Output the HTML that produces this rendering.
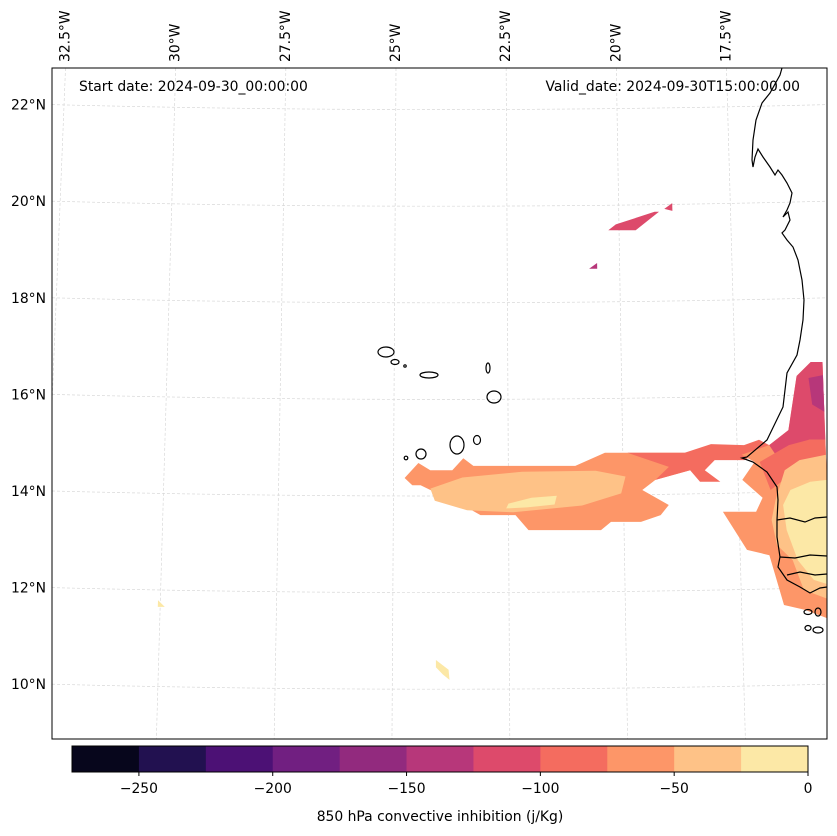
<!DOCTYPE html>
<html><head><meta charset="utf-8">
<style>
body{margin:0;background:#fff;}
svg{display:block;font-family:"DejaVu Sans","Liberation Sans",sans-serif;}
</style></head>
<body>
<svg id="chart" width="837" height="836" viewBox="0 0 837 836">
<defs><clipPath id="mapclip"><rect x="52" y="68" width="775" height="671"/></clipPath></defs>
<rect x="0" y="0" width="837" height="836" fill="#fff"/>
<g id="grid" clip-path="url(#mapclip)"></g>
<g id="fills" clip-path="url(#mapclip)"></g>
<g id="coast" clip-path="url(#mapclip)" fill="none" stroke="#000" stroke-width="1.2">
<path d="M782,68 L780,75 L770,93 L762,103 L756,120 L753,140 L752,160 L753,167 L755,157 L758,149 L763,157 L770,167 L775,175 L778,170 L782,175 L787,183 L792,193 L790,203 L787,210 L783,217 L788,212 L790,220 L785,230 L782,233 L787,240 L793,247 L798,260 L802,280 L804,300 L803,320 L800,340 L797,355 L787,373 L783,407 L767,440 L747,457 L742,458 L753,462 L767,472 L777,487 L778,500 L777,520 L777,537 L780,557 L778,567 L787,580 L800,587 L810,593 L820,588 L827,587"/>
<path d="M777,520 L790,518 L805,522 L815,518 L827,517 M780,557 L795,558 L810,555 L827,556 M787,575 L800,572 L815,575 L827,574"/>
<ellipse cx="386" cy="352" rx="8" ry="5"/><ellipse cx="395" cy="362" rx="4" ry="2.5"/><circle cx="405" cy="366" r="1.2"/>
<ellipse cx="429" cy="375" rx="9" ry="3"/><ellipse cx="488" cy="368" rx="2" ry="5"/><ellipse cx="494" cy="397" rx="7" ry="6"/>
<ellipse cx="421" cy="454" rx="5" ry="5"/><circle cx="406" cy="458" r="1.8"/><ellipse cx="457" cy="445" rx="7" ry="9"/><ellipse cx="477" cy="440" rx="3.5" ry="4.5"/>
<ellipse cx="808" cy="612" rx="4" ry="2.5"/><ellipse cx="818" cy="612" rx="3" ry="4"/><ellipse cx="808" cy="628" rx="3" ry="2.5"/><ellipse cx="818" cy="630" rx="5" ry="3"/>
</g>
<rect x="52" y="68" width="775" height="671" fill="none" stroke="#000" stroke-width="1"/>
<text x="79" y="91" font-size="13.9">Start date: 2024-09-30_00:00:00</text>
<text x="800" y="91" font-size="13.9" text-anchor="end">Valid_date: 2024-09-30T15:00:00.00</text>
<g id="latlabels" font-size="13.9"></g>
<g id="lonlabels" font-size="13.9"></g>
<g id="cbar"></g>
<text x="440" y="821" font-size="13.9" text-anchor="middle">850 hPa convective inhibition (j/Kg)</text>
</svg>
<script>
const NS="http://www.w3.org/2000/svg";
const levels=[-275,-250,-225,-200,-175,-150,-125,-100,-75,-50,-25,0];
const colors=["#07061c","#221150","#4c1175","#711f81","#922a7e","#b7377a","#dd4a6b","#f46c5f","#fd9668","#fec287","#fce8a6"];
const cbarTicks=[-250,-200,-150,-100,-50,0];
const latTicks=[10,12,14,16,18,20,22];
const lonTicks=[-32.5,-30,-27.5,-25,-22.5,-20,-17.5];
// contour polygons: level index, [lon,lat] pairs
const polyLevels=[8,7,9,10,8,6,5,7,9,10,6,6,5,10,10];
const polyCoords=[
[[-24.76,14.27],[-24.46,14.58],[-24.2,14.43],[-23.72,14.43],[-23.48,14.68],[-23.26,14.52],[-21.04,14.52],[-20.39,14.79],[-18.33,14.79],[-18.54,14.43],[-19.3,14.23],[-19.59,14.02],[-19.02,13.71],[-19.2,13.5],[-19.63,13.36],[-20.28,13.36],[-20.5,13.19],[-22.07,13.19],[-22.35,13.5],[-23.11,13.5],[-23.5,13.71],[-23.98,13.92],[-24.41,14.12],[-24.59,14.12]],
[[-19.9,14.79],[-18.65,14.79],[-18.07,14.97],[-17.35,14.95],[-17.02,15.06],[-16.8,14.95],[-17.35,14.64],[-18.0,14.64],[-18.22,14.43],[-17.89,14.19],[-18.33,14.19],[-18.54,14.43],[-19.3,14.23],[-19.0,14.5]],
[[-24.2,14.05],[-23.5,14.28],[-22.2,14.4],[-20.6,14.42],[-19.95,14.3],[-20.05,13.95],[-20.9,13.7],[-22.4,13.56],[-23.4,13.6],[-24.1,13.8]],
[[-22.5,13.74],[-22.0,13.86],[-21.45,13.9],[-21.5,13.72],[-22.1,13.66],[-22.55,13.64]],
[[-17.41,14.75],[-16.8,14.95],[-16.37,15.26],[-16.15,16.38],[-15.83,16.67],[-15.57,16.67],[-15.57,11.33],[-16.15,11.54],[-16.59,11.64],[-16.87,12.67],[-17.35,12.78],[-17.85,13.57],[-17.13,13.57],[-16.98,13.86],[-17.41,14.23],[-17.13,14.6]],
[[-16.8,14.95],[-16.37,15.26],[-16.15,16.38],[-15.83,16.67],[-15.57,16.67],[-15.57,15.06],[-15.93,15.06],[-16.15,14.75],[-16.59,14.64]],
[[-15.89,16.34],[-15.57,16.4],[-15.57,15.64],[-15.83,15.79]],
[[-17.02,14.6],[-16.37,14.95],[-15.93,15.06],[-15.57,15.06],[-15.57,14.23],[-16.37,14.33],[-16.8,14.02]],
[[-16.48,14.43],[-16.15,14.64],[-15.57,14.75],[-15.57,11.74],[-16.15,11.95],[-16.37,12.57],[-16.7,12.88],[-16.8,13.4],[-16.7,13.81]],
[[-16.37,14.02],[-15.93,14.19],[-15.57,14.23],[-15.57,12.05],[-15.93,12.16],[-16.26,12.57],[-16.48,13.19],[-16.54,13.71]],
[[-20.24,19.4],[-20.07,19.52],[-19.2,19.78],[-19.1,19.78],[-19.63,19.4]],
[[-18.98,19.84],[-18.8,19.96],[-18.8,19.8]],
[[-20.68,18.6],[-20.5,18.72],[-20.5,18.6]],
[[-30.05,11.74],[-29.9,11.6],[-30.05,11.6]],
[[-24.07,10.5],[-23.8,10.3],[-23.78,10.09],[-23.92,10.2],[-24.07,10.35]]
];
function py(lat){return 491-(lat-14)*48.3;}
function k(lat){return 47.1-(lat-9)*0.22;}
function px(lon,lat){return 392+(lat-9)*0.29+(lon+25)*k(lat);}
function el(t,a){const e=document.createElementNS(NS,t);for(const n in a)e.setAttribute(n,a[n]);return e;}
const grid=document.getElementById('grid');
latTicks.forEach(lat=>{
  const y=py(lat);
  const p=el('path',{d:`M52,${y} Q440,${y+10} 827,${y}`,fill:'none',stroke:'#d8d8d8','stroke-width':0.7,'stroke-dasharray':'3,2'});
  
  
  grid.appendChild(p);
  const t=el('text',{x:46,y:y+5,'text-anchor':'end'});t.textContent=lat+'°N';
  
  
  document.getElementById('latlabels').appendChild(t);
});
lonTicks.forEach(lon=>{
  const x1=px(lon,22.8),x2=px(lon,8.9);
  const l=el('line',{x1:x1,y1:68,x2:x2,y2:739,stroke:'#d8d8d8','stroke-width':0.7,'stroke-dasharray':'3,2'});
  
  
  grid.appendChild(l);
  const t=el('text',{transform:`translate(${x1+4},62) rotate(-90)`});t.textContent=Math.abs(lon)+'°W';
  
  
  document.getElementById('lonlabels').appendChild(t);
});
const fills=document.getElementById('fills');
polyCoords.forEach((pts,i)=>{
  const d='M'+pts.map(p=>px(p[0],p[1]).toFixed(1)+','+py(p[1]).toFixed(1)).join(' L')+'Z';
  const p=el('path',{d:d,fill:colors[polyLevels[i]]});
  
  
  fills.appendChild(p);
});
const cb=document.getElementById('cbar');
function cx(v){return 72+(v+275)/275*736;}
for(let i=0;i<colors.length;i++){
  const r=el('rect',{x:cx(levels[i]),y:746,width:cx(levels[i+1])-cx(levels[i])+0.5,height:26,fill:colors[i]});
  
  
  cb.appendChild(r);
}
const fr=el('rect',{x:72,y:746,width:736,height:26,fill:'none',stroke:'#000','stroke-width':1});


cb.appendChild(fr);
cbarTicks.forEach(v=>{
  const l=el('line',{x1:cx(v),y1:772,x2:cx(v),y2:776,stroke:'#000'});
  
  
  cb.appendChild(l);
  const t=el('text',{x:cx(v),y:793,'font-size':13.9,'text-anchor':'middle'});t.textContent=v<0?'\u2212'+Math.abs(v):String(v);
  
  
  cb.appendChild(t);
});
</script>
</body></html>
